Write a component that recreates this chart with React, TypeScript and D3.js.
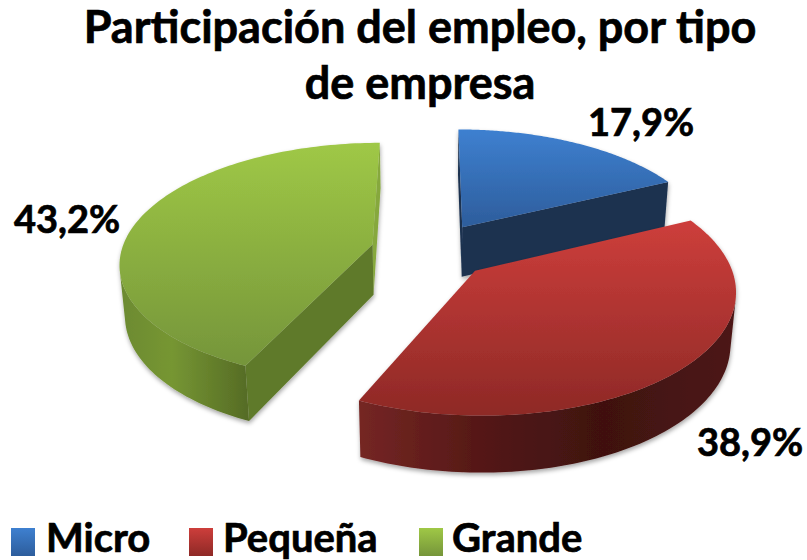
import React from "react";
import * as d3 from "d3";

const categories = ["Micro", "Pequeña", "Grande"];
const shares = [17.9, 38.9, 43.2];
const valueLabels = ["17,9%", "38,9%", "43,2%"];
const titleLines = ["Participación del empleo, por tipo", "de empresa"];

const lidColors = [["#3e80d0", "#2d5d9c"], ["#cd3e3b", "#8e2926"], ["#9fc846", "#75953a"]];
const wallStops: [number, string][][] = [
  [[0, "#162a48"], [1, "#1b3356"]],
  [[0, "#752624"], [0.35, "#521715"], [0.65, "#3f1110"], [1, "#4d1715"]],
  [[0, "#6c8a30"], [0.4, "#769633"], [1, "#556b25"]],
];
const faceColors = [
  ["#1a3050", "#1a3050"],
  ["#5a1a18", "#5a1a18"],
  ["#5f7a2b", "#86a83c"],
];
const drawOrder = [2, 0, 1];

const W = 807, H = 560, FONT = "Lato, Carlito, Calibri, sans-serif";
const cx = 431, cy = 250.5, S = 251, D = 6.2, phi = (28 * Math.PI) / 180, explode = 0.24, depth = 0.232;
const project = (X: number, Y: number, Z: number): [number, number] => {
  const yc = Y * Math.sin(phi) + Z * Math.cos(phi);
  const zc = D + Y * Math.cos(phi) - Z * Math.sin(phi);
  const s = D / zc;
  return [cx + S * X * s, cy - S * yc * s];
};
const camXY: [number, number] = [0, -D * Math.cos(phi)];
const line = d3.line();

const arcs = d3.pie<number>().sort(null).startAngle(0).endAngle(2 * Math.PI)(shares);

function Slice({ i }: { i: number }) {
  const a = arcs[i];
  const mid = (a.startAngle + a.endAngle) / 2;
  const ox = explode * Math.sin(mid), oy = explode * Math.cos(mid);
  const angles = d3.range(0, 121).map((k) => a.startAngle + ((a.endAngle - a.startAngle) * k) / 120);
  const pt = (t: number): [number, number] => [ox + Math.sin(t), oy + Math.cos(t)];
  const rim = angles.map(pt);
  const lid = [[ox, oy] as [number, number], ...rim].map(([x, y]) => project(x, y, 0));
  // front-facing outer wall
  const vis = angles.filter((t) => {
    const p = pt(t);
    return Math.sin(t) * (camXY[0] - p[0]) + Math.cos(t) * (camXY[1] - p[1]) > 0;
  });
  const wall = vis.length
    ? [...vis.map((t) => project(...pt(t), 0)), ...vis.slice().reverse().map((t) => project(...pt(t), -depth))]
    : [];
  const faces: { pts: [number, number][]; c: number }[] = [];
  const addFace = (t: number, sign: number, c: number) => {
    const n = [sign * Math.cos(t), -sign * Math.sin(t)];
    if (n[0] * (camXY[0] - ox) + n[1] * (camXY[1] - oy) > 0) {
      const p = pt(t);
      faces.push({
        c,
        pts: [project(ox, oy, 0), project(p[0], p[1], 0), project(p[0], p[1], -depth), project(ox, oy, -depth)],
      });
    }
  };
  addFace(a.endAngle, 1, 1);
  addFace(a.startAngle, -1, 0);
  return (
    <g filter="url(#soft)">
      {wall.length > 0 && <path d={line(wall)! + "Z"} fill={`url(#wall${i})`} />}
      {faces.map((f, k) => (
        <path key={k} d={line(f.pts)! + "Z"} fill={faceColors[i][f.c]} />
      ))}
      <path d={line(lid)! + "Z"} fill={`url(#lid${i})`} />
    </g>
  );
}

const legendBox = [11, 189, 419];
const legendText = [46, 223, 452];
const labelPos: [number, number][] = [[641, 136], [750, 456], [67, 233]];

export default function App() {
  return (
    <svg width={W} height={H} style={{ position: "absolute", left: 0, top: 0 }} fontFamily={FONT} fontWeight={700} fill="#000" stroke="#000" strokeWidth={0}>
      <defs>
        <filter id="soft" x="-10%" y="-10%" width="120%" height="120%">
          <feDropShadow dx="0.5" dy="2.5" stdDeviation="2" floodColor="#000" floodOpacity="0.35" />
        </filter>
        {lidColors.map((c, i) => (
          <linearGradient key={i} id={`lid${i}`} x1="0" y1="0" x2="0" y2="1">
            <stop offset="0" stopColor={c[0]} />
            <stop offset="1" stopColor={c[1]} />
          </linearGradient>
        ))}
        {wallStops.map((st, i) => (
          <linearGradient key={i} id={`wall${i}`} x1="0" y1="0" x2="1" y2="0">
            {st.map(([o, c], k) => (
              <stop key={k} offset={o} stopColor={c} />
            ))}
          </linearGradient>
        ))}
      </defs>
      {titleLines.map((t, i) => (
        <text key={i} x={420} y={43 + i * 56} textAnchor="middle" fontSize={45} strokeWidth={0.7}>{t}</text>
      ))}
      {drawOrder.map((i) => <Slice key={i} i={i} />)}
      {valueLabels.map((t, i) => (
        <text key={i} x={labelPos[i][0]} y={labelPos[i][1]} textAnchor="middle" fontSize={38} strokeWidth={0.7}>{t}</text>
      ))}
      {categories.map((c, i) => (
        <g key={c}>
          <rect x={legendBox[i]} y={528} width={24} height={28} fill={`url(#lid${i})`} />
          <text x={legendText[i]} y={552} fontSize={40} strokeWidth={0.7}>{c}</text>
        </g>
      ))}
    </svg>
  );
}
